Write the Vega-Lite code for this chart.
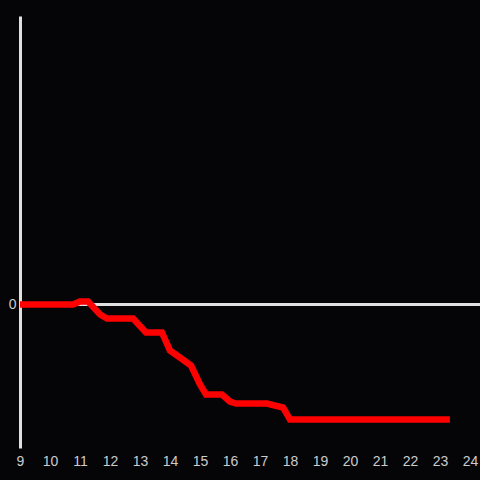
{
  "$schema": "https://vega.github.io/schema/vega-lite/v6.json",
  "width": 460,
  "height": 432,
  "autosize": {"type": "none"},
  "padding": {"left": 20, "top": 16, "right": 0, "bottom": 32},
  "background": "#050407",
  "config": {
    "view": {"stroke": null},
    "axis": {"grid": false, "labelFont": "Liberation Sans", "labelFontSize": 14, "labelColor": "#cccccc", "ticks": false}
  },
  "data": {"values": [
    {"x": 9, "y": 0},
    {"x": 10.77, "y": 0},
    {"x": 11.0, "y": 0.3},
    {"x": 11.27, "y": 0.3},
    {"x": 11.67, "y": -1.0},
    {"x": 11.9, "y": -1.4},
    {"x": 12.77, "y": -1.4},
    {"x": 13.2, "y": -2.8},
    {"x": 13.73, "y": -2.8},
    {"x": 14.0, "y": -4.6},
    {"x": 14.33, "y": -5.3},
    {"x": 14.7, "y": -6.1},
    {"x": 15.0, "y": -8.0},
    {"x": 15.2, "y": -9.0},
    {"x": 15.73, "y": -9.0},
    {"x": 16.0, "y": -9.7},
    {"x": 16.2, "y": -9.9},
    {"x": 17.23, "y": -9.9},
    {"x": 17.77, "y": -10.3},
    {"x": 18.0, "y": -11.5},
    {"x": 23.33, "y": -11.5}
  ]},
  "layer": [
    {
      "mark": {"type": "rule", "color": "#e0e0e0", "strokeWidth": 3},
      "encoding": {"y": {"datum": 0, "type": "quantitative", "scale": {"domain": [-14.35, 28.85], "nice": false, "zero": false}}}
    },
    {
      "mark": {"type": "line", "color": "#ff0000", "strokeWidth": 6.5, "strokeCap": "butt"},
      "encoding": {
        "x": {"field": "x", "type": "quantitative",
              "scale": {"domain": [9, 24.333], "nice": false, "zero": false},
              "axis": {"title": null, "domain": false, "values": [9,10,11,12,13,14,15,16,17,18,19,20,21,22,23,24], "labelPadding": 6, "labelFlush": false}},
        "y": {"field": "y", "type": "quantitative",
              "scale": {"domain": [-14.35, 28.85], "nice": false, "zero": false},
              "axis": {"title": null, "values": [0], "domainColor": "#e0e0e0", "domainWidth": 3, "labelPadding": 4}}
      }
    }
  ]
}
